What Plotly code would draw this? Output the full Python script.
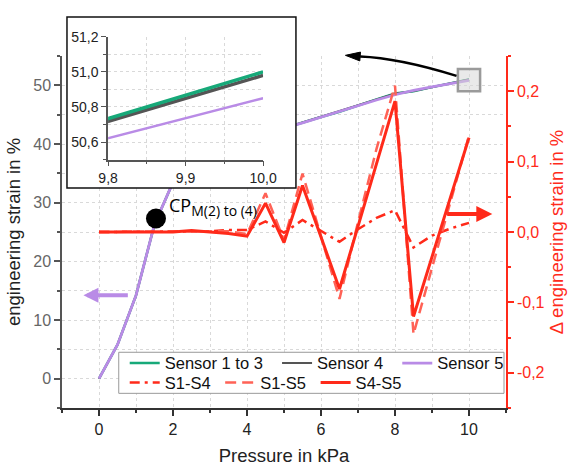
import plotly.graph_objects as go

# ---------------- data ----------------
pressure = [0, 0.5, 1, 1.5, 2, 2.5, 3, 3.5, 4, 4.5, 5, 5.5, 6, 6.5, 7, 7.5, 8, 8.5, 9, 9.5, 10]

sensor_1_to_3 = [0, 5.8, 14.2, 26.3, 33.5, 36.301, 38.201, 39.601, 40.797, 41.855, 42.688,
                 43.683, 44.594, 45.505, 46.614, 47.618, 48.608, 49.005, 49.699, 50.335, 51.0]
sensor_4 = [0, 5.8, 14.2, 26.3, 33.5, 36.302, 38.2, 39.598, 40.794, 41.841, 42.685,
            43.666, 44.593, 45.519, 46.608, 47.596, 48.583, 49.03, 49.715, 50.325, 50.98]
sensor_5 = [0, 5.8, 14.2, 26.3, 33.5, 36.3, 38.2, 39.6, 40.8, 41.8, 42.7,
            43.6, 44.6, 45.6, 46.6, 47.5, 48.4, 49.15, 49.75, 50.28, 50.85]

s1_s4 = [0, 0, 0, 0, 0, 0.001, 0.001, 0.003, 0.003, 0.015, -0.001,
         0.017, 0.001, -0.014, 0.004, 0.020, 0.031, -0.022, -0.005, 0.005, 0.013]
s1_s5 = [0, 0, 0, 0, 0, 0.001, 0.001, 0.001, -0.003, 0.055, -0.012,
         0.083, -0.006, -0.095, 0.014, 0.118, 0.208, -0.145, -0.051, 0.043, 0.137]
s4_s5 = [0, 0, 0, 0, 0, 0.002, 0, -0.002, -0.006, 0.041, -0.015,
         0.066, -0.007, -0.081, 0.008, 0.096, 0.186, -0.120, -0.035, 0.049, 0.134]

cp_pressure = [1.54]
cp_strain = [27.3]

right_tickvals = [-0.2, -0.1, 0.0, 0.1, 0.2]
right_ticktext = ["-0,2", "-0,1", "0,0", "0,1", "0,2"]

NB = "\u00a0"
sensor_names = ["Sensor 1 to 3" + NB * 2, "Sensor 4" + NB * 2, "Sensor 5"]
diff_names = ["S1-S4" + NB, "S1-S5" + NB, "S4-S5"]

# ---------------- styling ----------------
GREEN = "#17a979"
GRAY = "#555555"
PURPLE = "#b98be6"
RED = "#ff2a1a"
RED_LIGHT = "#ff6256"
GRID = "#d9d9d9"
FONT = "Liberation Sans, Arial, sans-serif"

W, H = 569, 468
L, R, T, B = 62, 61, 5, 59
PW, PH = W - L - R, H - T - B


def pp(px, py):
    """pixel position -> paper fraction"""
    return (px - L) / PW, (H - B - py) / PH


main_top = pp(0, 49)[1]
box_x0, box_y0 = pp(67, 184)
box_x1, box_y1 = pp(297, 9)
ins_x0, ins_y0 = pp(108.3, 155)
ins_x1, ins_y1 = pp(264, 29.3)

fig = go.Figure()

# main sensor curves
fig.add_trace(go.Scatter(x=pressure, y=sensor_1_to_3, name=sensor_names[0], mode="lines",
                         line=dict(color=GREEN, width=2.5), legend="legend"))
fig.add_trace(go.Scatter(x=pressure, y=sensor_4, name=sensor_names[1], mode="lines",
                         line=dict(color=GRAY, width=2), legend="legend"))
fig.add_trace(go.Scatter(x=pressure, y=sensor_5, name=sensor_names[2], mode="lines",
                         line=dict(color=PURPLE, width=2.8), legend="legend"))

# differences (right axis)
fig.add_trace(go.Scatter(x=pressure, y=s1_s4, name=diff_names[0], mode="lines", yaxis="y2",
                         line=dict(color=RED, width=2.5, dash="10px,5px,3px,5px"), legend="legend2"))
fig.add_trace(go.Scatter(x=pressure, y=s1_s5, name=diff_names[1], mode="lines", yaxis="y2",
                         line=dict(color=RED_LIGHT, width=2.5, dash="11px,6px"), legend="legend2"))
fig.add_trace(go.Scatter(x=pressure, y=s4_s5, name=diff_names[2], mode="lines", yaxis="y2",
                         line=dict(color=RED, width=3), legend="legend2"))

# CP marker
fig.add_trace(go.Scatter(x=cp_pressure, y=cp_strain, mode="markers", showlegend=False,
                         marker=dict(color="black", size=20)))

# cover subplot (white background behind the inset)
fig.add_trace(go.Scatter(x=[None], y=[None], xaxis="x3", yaxis="y3", showlegend=False,
                         hoverinfo="skip"))

# inset
fig.add_trace(go.Scatter(x=pressure, y=sensor_4, mode="lines", xaxis="x4", yaxis="y4",
                         showlegend=False, line=dict(color=GRAY, width=3.5)))
fig.add_trace(go.Scatter(x=pressure, y=sensor_1_to_3, mode="lines", xaxis="x4", yaxis="y4",
                         showlegend=False, line=dict(color=GREEN, width=3.5)))
fig.add_trace(go.Scatter(x=pressure, y=sensor_5, mode="lines", xaxis="x4", yaxis="y4",
                         showlegend=False, line=dict(color=PURPLE, width=2.5)))

axis_common = dict(showline=True, linewidth=1.5, ticks="outside", zeroline=False)

fig.update_layout(
    width=W, height=H,
    margin=dict(l=L, r=R, t=T, b=B, pad=0),
    paper_bgcolor="white", plot_bgcolor="white",
    separators=", ",
    font=dict(family=FONT, size=16, color="#222"),
    xaxis=dict(domain=[0, 1], anchor="y", range=[-1, 11], tickmode="linear", tick0=0, dtick=2,
               linecolor="#333", tickcolor="#333", ticklen=6, tickwidth=1.5,
               showgrid=True, gridcolor=GRID, griddash="dot", gridwidth=1,
               tickfont=dict(size=16, color="#222"),
               title=dict(text="Pressure in kPa", font=dict(size=18.5, color="#222"), standoff=12),
               minor=dict(dtick=1, tick0=0, ticks="outside", ticklen=3, tickcolor="#333",
                          showgrid=True, gridcolor=GRID, griddash="dot", gridwidth=1),
               **axis_common),
    yaxis=dict(domain=[0, main_top], anchor="x", range=[-5, 55], tickmode="linear", tick0=0, dtick=10,
               linecolor="#555", tickcolor="#555", ticklen=6, tickwidth=1.5,
               showgrid=True, gridcolor=GRID, griddash="dot", gridwidth=1,
               tickfont=dict(size=16, color="#666"),
               title=dict(text="engineering strain in %", font=dict(size=18.5, color="#222"), standoff=8),
               minor=dict(dtick=5, tick0=0, ticks="outside", ticklen=3, tickcolor="#555",
                          showgrid=True, gridcolor=GRID, griddash="dot", gridwidth=1),
               **axis_common),
    yaxis2=dict(overlaying="y", side="right", anchor="x", range=[-0.25, 0.25],
                tickmode="array", tickvals=right_tickvals, ticktext=right_ticktext,
                linecolor=RED, tickcolor=RED, ticklen=6, tickwidth=1.5, showgrid=False,
                tickfont=dict(size=16, color=RED),
                title=dict(text="Δ engineering strain in %", font=dict(size=18.5, color=RED), standoff=6),
                minor=dict(dtick=0.05, tick0=0, ticks="outside", ticklen=3, tickcolor=RED),
                **axis_common),
    xaxis3=dict(domain=[box_x0, box_x1], anchor="y3", range=[0, 1], visible=False, fixedrange=True),
    yaxis3=dict(domain=[box_y0, box_y1], anchor="x3", range=[0, 1], visible=False, fixedrange=True),
    xaxis4=dict(domain=[ins_x0, ins_x1], anchor="y4", range=[9.8, 10.0], tickmode="linear",
                tick0=9.8, dtick=0.1, tickformat=".1f",
                linecolor="#555", tickcolor="#555", ticklen=5, tickwidth=1,
                showgrid=True, gridcolor=GRID, griddash="dot", gridwidth=1,
                tickfont=dict(size=14, color="#222"),
                minor=dict(dtick=0.05, tick0=9.8, ticks="outside", ticklen=3, tickcolor="#555",
                           showgrid=True, gridcolor=GRID, griddash="dot", gridwidth=1),
                **axis_common),
    yaxis4=dict(domain=[ins_y0, ins_y1], anchor="x4", range=[50.5, 51.2], tickmode="linear",
                tick0=50.6, dtick=0.2, tickformat=".1f",
                linecolor="#555", tickcolor="#555", ticklen=5, tickwidth=1,
                showgrid=True, gridcolor=GRID, griddash="dot", gridwidth=1,
                tickfont=dict(size=14, color="#222"),
                minor=dict(dtick=0.1, tick0=50.6, ticks="outside", ticklen=3, tickcolor="#555",
                           showgrid=True, gridcolor=GRID, griddash="dot", gridwidth=1),
                **axis_common),
    legend=dict(orientation="h", x=pp(125, 0)[0], y=pp(0, 363.3)[1], xanchor="left", yanchor="middle",
                bgcolor="rgba(0,0,0,0)", borderwidth=0, font=dict(size=16.5, color="#111"),
                tracegroupgap=0),
    legend2=dict(orientation="h", x=pp(125, 0)[0], y=pp(0, 383.3)[1], xanchor="left", yanchor="middle",
                 bgcolor="rgba(0,0,0,0)", borderwidth=0, font=dict(size=16.5, color="#111"),
                 tracegroupgap=0),
    showlegend=True,
)

# shapes
lg0 = pp(119, 394)
lg1 = pp(506, 352)
p0 = pp(458.3, 69.3)
p1 = pp(400, 51)
p2 = pp(361.5, 49.5)
h0 = pp(346.7, 48.3)
h1 = pp(361.86, 45.0)
h2 = pp(361.14, 54.0)
shapes = [
    dict(type="rect", xref="paper", yref="paper", x0=box_x0, x1=box_x1, y0=box_y0, y1=box_y1,
         line=dict(color="#111", width=1.5), fillcolor="rgba(0,0,0,0)", layer="above"),
    dict(type="rect", xref="paper", yref="paper", x0=lg0[0], x1=lg1[0], y0=lg0[1], y1=lg1[1],
         line=dict(color="#999", width=1), fillcolor="white", layer="above"),
    dict(type="rect", xref="x", yref="y", x0=9.7, x1=10.3, y0=49.0, y1=52.8,
         line=dict(color="#9a9a9a", width=2.5), fillcolor="rgba(215,215,215,0.55)", layer="above"),
    dict(type="path", xref="paper", yref="paper",
         path=f"M{p0[0]},{p0[1]} Q{p1[0]},{p1[1]} {p2[0]},{p2[1]}",
         line=dict(color="black", width=2.5), layer="above"),
    dict(type="path", xref="paper", yref="paper",
         path=f"M{h0[0]},{h0[1]} L{h1[0]},{h1[1]} L{h2[0]},{h2[1]} Z",
         line=dict(color="black", width=1), fillcolor="black", layer="above"),
]
fig.update_layout(shapes=shapes)

annotations = [
    dict(xref="x", yref="y", x=1.84, y=29.3, xanchor="left", yanchor="middle", showarrow=False,
         text='CP<sub><span style="font-size:14px">M(2) to (4)</span></sub>',
         font=dict(family="Open Sans", size=18, color="black")),
    dict(xref="x", yref="y", axref="x", ayref="y", x=-0.42, y=14.2, ax=0.82, ay=14.2,
         text="", showarrow=True, arrowhead=2, arrowsize=0.75, arrowwidth=4, arrowcolor=PURPLE),
    dict(xref="x", yref="y2", axref="x", ayref="y2", x=10.63, y=0.0256, ax=9.37, ay=0.0256,
         text="", showarrow=True, arrowhead=2, arrowsize=0.8, arrowwidth=4, arrowcolor=RED),
]
fig.update_layout(annotations=annotations)

fig.write_html("out.html",
               config={"displayModeBar": False},
               post_script="document.body.style.margin='0';document.body.style.overflow='hidden';")
